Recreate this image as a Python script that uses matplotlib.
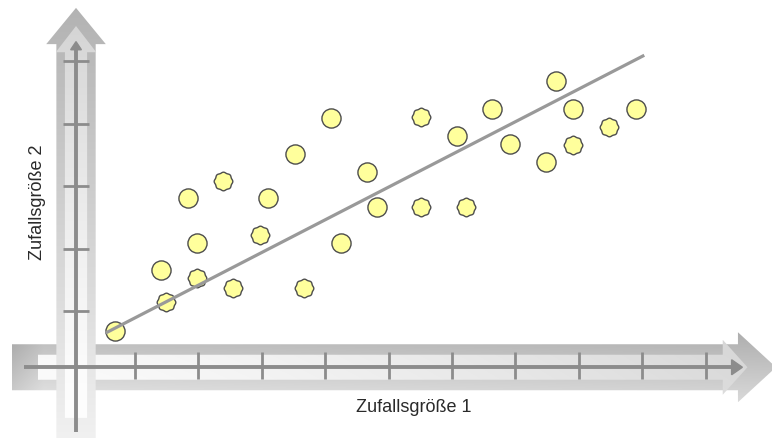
import numpy as np
import matplotlib
matplotlib.use("Agg")
import matplotlib.pyplot as plt
from matplotlib.patches import Polygon
from matplotlib.path import Path

plt.rcParams['font.family'] = ['Liberation Sans', 'DejaVu Sans']

# Observations: smooth round markers and scalloped markers
round_x = [0.69, 1.41, 1.98, 1.84, 3.10, 4.25, 3.52, 4.09, 4.66, 4.82,
           6.08, 6.63, 6.92, 7.64, 7.91, 7.48, 8.90]
round_y = [0.68, 1.66, 2.09, 2.81, 2.81, 2.09, 3.51, 4.09, 3.22, 2.66,
           3.80, 4.23, 3.67, 4.68, 4.23, 3.38, 4.23]
scallop_x = [1.49, 1.98, 2.39, 2.97, 2.55, 3.67, 5.51, 5.51, 6.22, 7.91, 8.48]
scallop_y = [1.14, 1.53, 3.08, 2.22, 1.37, 1.37, 4.10, 2.66, 2.66, 3.66, 3.94]

# Trend line end points
trend_x = [0.56, 9.01]
trend_y = [0.66, 5.08]

# Axis ticks
x_ticks = [1, 2, 3, 4, 5, 6, 7, 8, 9, 10]
y_ticks = [1, 2, 3, 4, 5]

x_label = "Zufallsgröße 1"
y_label = "Zufallsgröße 2"

# Crossing point of the two axes
X0, Y0 = 0.07, 0.10

fig = plt.figure(figsize=(7.72, 4.39), dpi=100)
ax = fig.add_axes([0, 0, 1, 1])
XL = (-1.129, 11.047)
YL = (-1.032, 5.992)


def gradient_shape(verts, shade, zorder):
    """Fill a polygon with a grey gradient; shade(u, v) -> grey level,
    u and v running 0..1 across the polygon's bounding box."""
    verts = np.asarray(verts, float)
    poly = Polygon(verts, closed=True, facecolor='none', edgecolor='none',
                   zorder=zorder)
    ax.add_patch(poly)
    x0, y0 = verts.min(axis=0)
    x1, y1 = verts.max(axis=0)
    u, v = np.meshgrid(np.linspace(0, 1, 300), np.linspace(0, 1, 300))
    g = np.clip(shade(u, v), 0, 1)
    img = np.dstack([g, g, g])
    im = ax.imshow(img, extent=(x0, x1, y0, y1), origin='lower',
                   aspect='auto', interpolation='bilinear', zorder=zorder)
    im.set_clip_path(poly)


def h_arrow(xl, xr, half, head_half, tip_x):
    return [(xl, Y0 - half), (xr, Y0 - half), (xr, Y0 - head_half),
            (tip_x, Y0), (xr, Y0 + head_half), (xr, Y0 + half),
            (xl, Y0 + half)]


def v_arrow(yb, yt, half, head_half, tip_y):
    return [(X0 - half, yb), (X0 + half, yb), (X0 + half, yt),
            (X0 + head_half, yt), (X0, tip_y), (X0 - head_half, yt),
            (X0 - half, yt)]


# Horizontal axis band (outer and inner)
gradient_shape(h_arrow(-0.94, 10.51, 0.368, 0.56, 11.11),
               lambda u, v: 0.90 - 0.17 * v - 0.05 * u
               - 0.08 * np.clip(1 - u / 0.04, 0, 1), 1)
gradient_shape(h_arrow(-0.53, 10.27, 0.20, 0.44, 10.66),
               lambda u, v: 0.99 - 0.13 * u ** 1.3 - 0.02 * v, 2)

# Vertical axis band (outer and inner)
gradient_shape(v_arrow(-1.2, 5.27, 0.31, 0.47, 5.85),
               lambda u, v: 0.95 - 0.25 * v, 3)
gradient_shape(v_arrow(-0.71, 5.14, 0.175, 0.32, 5.56),
               lambda u, v: 0.995 - 0.16 * v ** 1.3, 4)

axis_grey = '#8c8c8c'
# Axis lines with small arrow heads
ax.plot([-0.75, 10.45], [Y0, Y0], color=axis_grey, lw=2.8,
        solid_capstyle='butt', zorder=5)
ax.add_patch(Polygon([(10.41, Y0 - 0.12), (10.58, Y0), (10.41, Y0 + 0.12)],
                     closed=True, color=axis_grey, zorder=5))
ax.plot([X0, X0], [-0.94, 5.21], color=axis_grey, lw=2.8,
        solid_capstyle='butt', zorder=5)
ax.add_patch(Polygon([(X0 - 0.085, 5.18), (X0, 5.31), (X0 + 0.085, 5.18)],
                     closed=True, color=axis_grey, zorder=5))

# Tick marks
for t in x_ticks:
    ax.plot([t, t], [-0.09, 0.345], color=axis_grey, lw=2.0,
            solid_capstyle='butt', zorder=5)
for t in y_ticks:
    ax.plot([-0.135, 0.275], [t, t], color=axis_grey, lw=2.0,
            solid_capstyle='butt', zorder=5)

# Scalloped marker outline
theta = np.linspace(0, 2 * np.pi, 97)
r = 1 + 0.045 * np.cos(8 * theta)
scallop = Path(np.column_stack([r * np.cos(theta), r * np.sin(theta)]),
               closed=True)

fill = '#ffff9c'
edge = '#4d4d4d'
ax.scatter(round_x, round_y, s=190, marker='o', facecolor=fill,
           edgecolor=edge, linewidth=1.0, zorder=6)
ax.scatter(scallop_x, scallop_y, s=180, marker=scallop, facecolor=fill,
           edgecolor=edge, linewidth=1.0, zorder=6)

# Trend line
ax.plot(trend_x, trend_y, color='#999999', lw=2.3, zorder=7)

# Axis titles
ax.text(5.4, -0.53, x_label, ha='center', va='center', fontsize=13,
        color='#2a2a2a')
ax.text(-0.53, 2.75, y_label, ha='center', va='center', fontsize=13,
        rotation=90, color='#2a2a2a')

ax.set_xlim(*XL)
ax.set_ylim(*YL)
ax.axis('off')
fig.savefig('out.png', dpi=100)
